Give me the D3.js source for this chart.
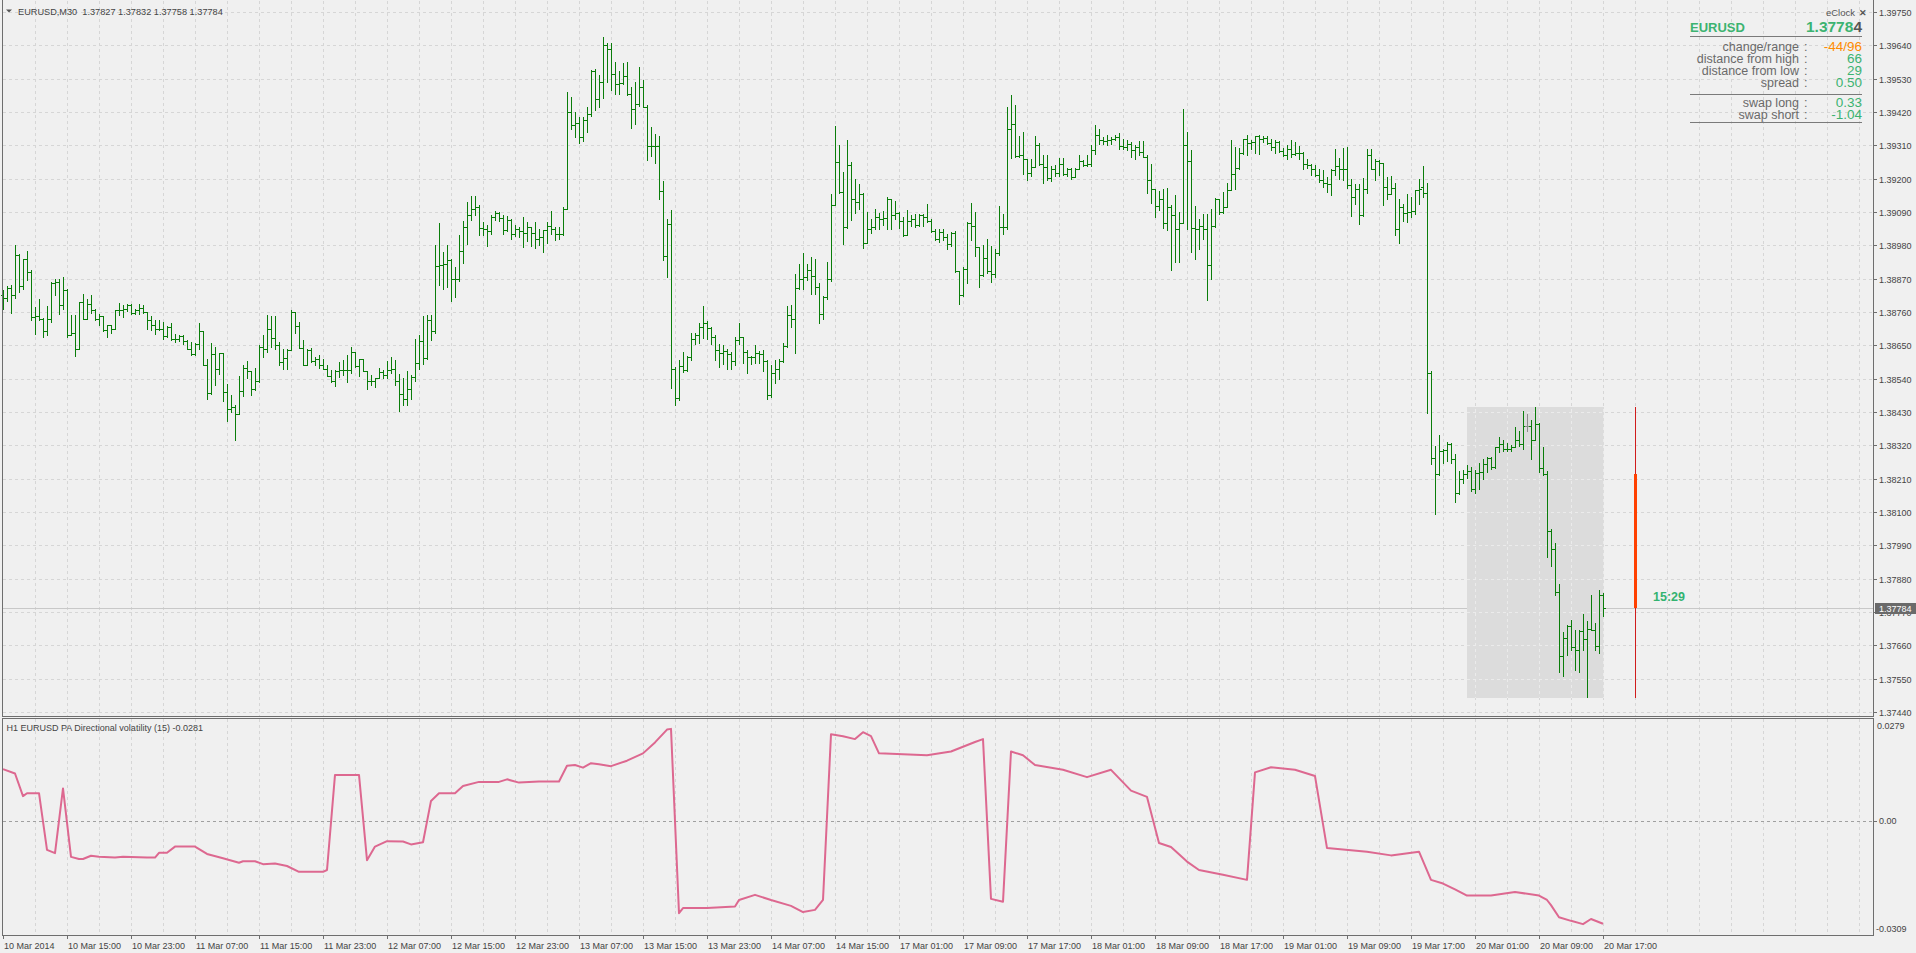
<!DOCTYPE html>
<html><head><meta charset="utf-8">
<script src="https://cdn.jsdelivr.net/npm/d3@7"></script>
<style>html,body{margin:0;padding:0;background:#f0f0f0;overflow:hidden}svg{display:block}</style>
</head><body><svg id="c" width="1916" height="953"></svg>
<script>
// ---------------- DATA ----------------
const symbol = "EURUSD", timeframe = "M30";
const barOpen = [
1.38815,1.38807,1.38840,1.38817,1.38947,1.38846,1.38934,1.38892,1.38743,1.38748,
1.38736,1.38696,1.38738,1.38856,1.38859,1.38782,1.38834,1.38685,1.38692,1.38638,
1.38793,1.38738,1.38785,1.38765,1.38736,1.38746,1.38700,1.38716,1.38704,1.38765,
1.38768,1.38771,1.38784,1.38758,1.38768,1.38772,1.38760,1.38735,1.38718,1.38705,
1.38704,1.38681,1.38710,1.38672,1.38670,1.38682,1.38663,1.38639,1.38621,1.38653,
1.38696,1.38586,1.38493,1.38623,1.38573,1.38624,1.38496,1.38441,1.38445,1.38423,
1.38500,1.38575,1.38564,1.38507,1.38531,1.38646,1.38637,1.38705,1.38674,1.38650,
1.38595,1.38608,1.38634,1.38760,1.38714,1.38642,1.38586,1.38634,1.38597,1.38604,
1.38586,1.38573,1.38549,1.38532,1.38564,1.38567,1.38570,1.38567,1.38628,1.38582,
1.38604,1.38564,1.38532,1.38531,1.38542,1.38562,1.38551,1.38567,1.38573,1.38531,
1.38490,1.38472,1.38507,1.38546,1.38593,1.38664,1.38608,1.38734,1.38696,1.38912,
1.38916,1.38920,1.38931,1.38868,1.38870,1.38960,1.39041,1.39081,1.39101,1.39108,
1.39037,1.39033,1.39026,1.39074,1.39088,1.39070,1.39030,1.39063,1.39016,1.39035,
1.39028,1.39020,1.39039,1.39020,1.39002,1.39009,1.39029,1.39044,1.39033,1.39016,
1.39019,1.39101,1.39421,1.39378,1.39385,1.39339,1.39394,1.39415,1.39556,1.39464,
1.39520,1.39642,1.39629,1.39545,1.39512,1.39517,1.39540,1.39479,1.39431,1.39448,
1.39504,1.39438,1.39308,1.39307,1.39308,1.39160,1.38945,1.39052,1.38573,1.38475,
1.38582,1.38569,1.38610,1.38670,1.38683,1.38709,1.38723,1.38706,1.38679,1.38635,
1.38626,1.38630,1.38623,1.38597,1.38668,1.38679,1.38628,1.38610,1.38613,1.38626,
1.38621,1.38599,1.38486,1.38558,1.38571,1.38599,1.38648,1.38749,1.38738,1.38840,
1.38868,1.38874,1.38899,1.38879,1.38844,1.38755,1.38808,1.38870,1.39112,1.39256,
1.39157,1.39042,1.39244,1.39132,1.39124,1.39149,1.38989,1.39035,1.39041,1.39072,
1.39068,1.39070,1.39134,1.39079,1.39088,1.39061,1.39014,1.39061,1.39068,1.39047,
1.39080,1.39072,1.39061,1.39028,1.39002,1.39024,1.39009,1.38984,1.39022,1.38894,
1.38816,1.38903,1.39053,1.39045,1.38976,1.38881,1.38937,1.38896,1.38885,1.38956,
1.39042,1.39040,1.39363,1.39382,1.39275,1.39277,1.39266,1.39218,1.39240,1.39310,
1.39250,1.39238,1.39202,1.39233,1.39220,1.39250,1.39217,1.39233,1.39206,1.39233,
1.39257,1.39244,1.39250,1.39296,1.39343,1.39327,1.39323,1.39327,1.39332,1.39338,
1.39308,1.39305,1.39316,1.39294,1.39305,1.39288,1.39272,1.39195,1.39165,1.39110,
1.39132,1.39054,1.39107,1.39081,1.39035,1.39054,1.39310,1.39257,1.39037,1.39035,
1.39044,1.39035,1.38916,1.39044,1.39132,1.39090,1.39107,1.39162,1.39217,1.39235,
1.39286,1.39330,1.39319,1.39321,1.39341,1.39332,1.39334,1.39319,1.39305,1.39321,
1.39290,1.39277,1.39297,1.39283,1.39286,1.39285,1.39250,1.39246,1.39231,1.39213,
1.39195,1.39187,1.39184,1.39228,1.39242,1.39231,1.39233,1.39180,1.39140,1.39167,
1.39079,1.39167,1.39277,1.39233,1.39257,1.39253,1.39173,1.39151,1.39169,1.39035,
1.39107,1.39088,1.39090,1.39092,1.39162,1.39174,1.39153,1.38558,1.38277,1.38226,
1.38301,1.38304,1.38324,1.38274,1.38163,1.38210,1.38224,1.38236,1.38177,1.38230,
1.38232,1.38260,1.38277,1.38248,1.38313,1.38324,1.38309,1.38307,1.38313,1.38336,
1.38324,1.38383,1.38383,1.38339,1.38389,1.38244,1.38224,1.38036,1.37977,1.37835,
1.37626,1.37685,1.37725,1.37656,1.37646,1.37708,1.37682,1.37715,1.37711,1.37658,
1.37827];
const barHigh = [
1.38832,1.38846,1.38848,1.38980,1.38950,1.38936,1.38962,1.38900,1.38777,1.38804,
1.38740,1.38780,1.38859,1.38870,1.38868,1.38876,1.38837,1.38749,1.38751,1.38793,
1.38821,1.38804,1.38815,1.38771,1.38755,1.38747,1.38718,1.38718,1.38767,1.38791,
1.38784,1.38788,1.38788,1.38771,1.38788,1.38782,1.38760,1.38746,1.38735,1.38732,
1.38727,1.38714,1.38724,1.38689,1.38683,1.38683,1.38667,1.38661,1.38659,1.38725,
1.38696,1.38604,1.38659,1.38645,1.38625,1.38625,1.38524,1.38485,1.38452,1.38549,
1.38584,1.38599,1.38564,1.38576,1.38650,1.38683,1.38749,1.38746,1.38746,1.38661,
1.38639,1.38637,1.38768,1.38760,1.38727,1.38667,1.38639,1.38641,1.38612,1.38617,
1.38604,1.38584,1.38568,1.38568,1.38595,1.38603,1.38619,1.38646,1.38628,1.38606,
1.38606,1.38564,1.38551,1.38542,1.38576,1.38568,1.38599,1.38613,1.38603,1.38557,
1.38543,1.38564,1.38551,1.38672,1.38683,1.38748,1.38749,1.38749,1.38980,1.39055,
1.38958,1.38982,1.38936,1.38907,1.39013,1.39060,1.39123,1.39143,1.39143,1.39114,
1.39057,1.39046,1.39081,1.39094,1.39090,1.39079,1.39076,1.39068,1.39048,1.39041,
1.39072,1.39057,1.39040,1.39058,1.39033,1.39031,1.39057,1.39092,1.39042,1.39039,
1.39105,1.39486,1.39469,1.39420,1.39405,1.39402,1.39438,1.39559,1.39561,1.39541,
1.39667,1.39649,1.39649,1.39585,1.39556,1.39583,1.39585,1.39504,1.39519,1.39568,
1.39526,1.39442,1.39372,1.39347,1.39341,1.39191,1.39066,1.39096,1.38577,1.38601,
1.38628,1.38615,1.38692,1.38692,1.38723,1.38780,1.38730,1.38709,1.38683,1.38654,
1.38650,1.38637,1.38628,1.38676,1.38723,1.38679,1.38635,1.38615,1.38650,1.38630,
1.38635,1.38601,1.38584,1.38602,1.38606,1.38657,1.38780,1.38782,1.38885,1.38917,
1.38954,1.38918,1.38940,1.38936,1.38857,1.38813,1.38925,1.39149,1.39374,1.39310,
1.39222,1.39327,1.39255,1.39198,1.39182,1.39154,1.39090,1.39066,1.39099,1.39086,
1.39094,1.39139,1.39134,1.39127,1.39090,1.39072,1.39097,1.39081,1.39083,1.39085,
1.39083,1.39116,1.39068,1.39035,1.39035,1.39033,1.39017,1.39024,1.39028,1.38894,
1.38907,1.39057,1.39121,1.39090,1.38976,1.38980,1.39002,1.38978,1.38967,1.39110,
1.39083,1.39435,1.39475,1.39442,1.39341,1.39354,1.39266,1.39264,1.39341,1.39319,
1.39277,1.39277,1.39242,1.39246,1.39268,1.39268,1.39235,1.39235,1.39235,1.39277,
1.39261,1.39277,1.39310,1.39376,1.39365,1.39338,1.39345,1.39338,1.39343,1.39352,
1.39330,1.39327,1.39321,1.39310,1.39323,1.39323,1.39277,1.39250,1.39167,1.39158,
1.39167,1.39169,1.39114,1.39147,1.39090,1.39431,1.39354,1.39294,1.39109,1.39068,
1.39085,1.39085,1.39101,1.39136,1.39134,1.39156,1.39187,1.39327,1.39305,1.39301,
1.39332,1.39345,1.39327,1.39341,1.39345,1.39341,1.39341,1.39332,1.39327,1.39323,
1.39301,1.39310,1.39327,1.39321,1.39308,1.39288,1.39266,1.39250,1.39244,1.39233,
1.39228,1.39206,1.39231,1.39299,1.39268,1.39301,1.39305,1.39198,1.39184,1.39184,
1.39202,1.39299,1.39297,1.39266,1.39261,1.39253,1.39206,1.39209,1.39187,1.39134,
1.39118,1.39151,1.39140,1.39162,1.39198,1.39242,1.39187,1.38566,1.38319,1.38354,
1.38307,1.38330,1.38327,1.38292,1.38236,1.38238,1.38254,1.38248,1.38239,1.38263,
1.38274,1.38283,1.38281,1.38313,1.38348,1.38336,1.38327,1.38321,1.38381,1.38366,
1.38434,1.38422,1.38405,1.38448,1.38395,1.38313,1.38236,1.38045,1.37997,1.37861,
1.37703,1.37727,1.37743,1.37709,1.37711,1.37764,1.37741,1.37827,1.37735,1.37844,
1.37832];
const barLow = [
1.38771,1.38795,1.38758,1.38806,1.38826,1.38837,1.38865,1.38732,1.38689,1.38732,
1.38676,1.38683,1.38727,1.38815,1.38754,1.38769,1.38677,1.38683,1.38614,1.38637,
1.38736,1.38736,1.38758,1.38732,1.38716,1.38696,1.38676,1.38692,1.38704,1.38751,
1.38743,1.38762,1.38752,1.38753,1.38755,1.38758,1.38705,1.38700,1.38689,1.38702,
1.38672,1.38677,1.38669,1.38661,1.38663,1.38655,1.38637,1.38617,1.38617,1.38639,
1.38584,1.38472,1.38491,1.38518,1.38557,1.38466,1.38399,1.38430,1.38337,1.38423,
1.38482,1.38542,1.38485,1.38502,1.38529,1.38612,1.38628,1.38645,1.38637,1.38584,
1.38573,1.38571,1.38634,1.38692,1.38641,1.38584,1.38586,1.38595,1.38584,1.38575,
1.38571,1.38548,1.38529,1.38516,1.38545,1.38551,1.38529,1.38560,1.38579,1.38549,
1.38564,1.38507,1.38520,1.38514,1.38542,1.38542,1.38542,1.38559,1.38520,1.38432,
1.38452,1.38452,1.38474,1.38531,1.38571,1.38590,1.38606,1.38667,1.38692,1.38848,
1.38837,1.38843,1.38795,1.38808,1.38861,1.38923,1.38983,1.39063,1.39079,1.39013,
1.39013,1.38977,1.39019,1.39063,1.39061,1.39016,1.39026,1.39002,1.39011,1.39008,
1.38975,1.38993,1.38978,1.38971,1.38980,1.38958,1.38989,1.39016,1.38998,1.39000,
1.39013,1.39099,1.39363,1.39338,1.39317,1.39325,1.39354,1.39407,1.39427,1.39438,
1.39465,1.39519,1.39492,1.39481,1.39481,1.39512,1.39476,1.39366,1.39380,1.39440,
1.39437,1.39262,1.39275,1.39251,1.39132,1.38932,1.38875,1.38508,1.38453,1.38470,
1.38563,1.38566,1.38602,1.38654,1.38657,1.38674,1.38670,1.38654,1.38602,1.38580,
1.38588,1.38571,1.38573,1.38584,1.38654,1.38593,1.38558,1.38590,1.38593,1.38593,
1.38566,1.38474,1.38480,1.38527,1.38538,1.38595,1.38643,1.38711,1.38624,1.38835,
1.38835,1.38866,1.38819,1.38819,1.38723,1.38738,1.38804,1.38862,1.39112,1.39152,
1.38984,1.39037,1.39063,1.39088,1.39099,1.38971,1.38989,1.39020,1.39033,1.39035,
1.39046,1.39035,1.39033,1.39066,1.39037,1.39011,1.39013,1.39044,1.39041,1.39044,
1.39044,1.39057,1.39025,1.38998,1.38991,1.38998,1.38967,1.38978,1.38892,1.38786,
1.38812,1.38855,1.38998,1.38945,1.38844,1.38879,1.38890,1.38859,1.38874,1.38947,
1.39017,1.39035,1.39268,1.39270,1.39273,1.39215,1.39195,1.39209,1.39237,1.39244,
1.39187,1.39195,1.39191,1.39209,1.39209,1.39211,1.39209,1.39200,1.39206,1.39233,
1.39242,1.39242,1.39242,1.39283,1.39316,1.39316,1.39310,1.39316,1.39327,1.39297,
1.39299,1.39294,1.39272,1.39264,1.39277,1.39272,1.39154,1.39121,1.39074,1.39096,
1.39037,1.39030,1.38898,1.38925,1.38925,1.39054,1.39035,1.38958,1.38934,1.38967,
1.39000,1.38799,1.38868,1.39040,1.39085,1.39088,1.39105,1.39162,1.39165,1.39233,
1.39283,1.39279,1.39297,1.39286,1.39283,1.39321,1.39316,1.39294,1.39286,1.39288,
1.39274,1.39264,1.39272,1.39279,1.39264,1.39233,1.39235,1.39211,1.39209,1.39189,
1.39173,1.39156,1.39147,1.39213,1.39200,1.39195,1.39169,1.39076,1.39118,1.39049,
1.39076,1.39154,1.39231,1.39195,1.39213,1.39112,1.39132,1.39148,1.39013,1.38989,
1.39059,1.39057,1.39074,1.39085,1.39118,1.39141,1.38427,1.38259,1.38094,1.38222,
1.38262,1.38269,1.38262,1.38133,1.38160,1.38197,1.38212,1.38169,1.38162,1.38177,
1.38210,1.38232,1.38242,1.38245,1.38297,1.38301,1.38301,1.38301,1.38313,1.38318,
1.38307,1.38366,1.38274,1.38336,1.38232,1.38222,1.37953,1.37921,1.37826,1.37572,
1.37558,1.37629,1.37646,1.37578,1.37572,1.37644,1.37491,1.37709,1.37646,1.37635,
1.37758];
const barClose = [
1.38807,1.38840,1.38817,1.38947,1.38846,1.38934,1.38892,1.38743,1.38748,1.38736,
1.38696,1.38738,1.38856,1.38859,1.38782,1.38834,1.38685,1.38692,1.38638,1.38793,
1.38738,1.38785,1.38765,1.38736,1.38746,1.38700,1.38716,1.38704,1.38765,1.38768,
1.38771,1.38784,1.38758,1.38768,1.38772,1.38760,1.38735,1.38718,1.38705,1.38704,
1.38681,1.38710,1.38672,1.38670,1.38682,1.38663,1.38639,1.38621,1.38653,1.38696,
1.38586,1.38493,1.38623,1.38573,1.38624,1.38496,1.38441,1.38445,1.38423,1.38500,
1.38575,1.38564,1.38507,1.38531,1.38646,1.38637,1.38705,1.38674,1.38650,1.38595,
1.38608,1.38634,1.38760,1.38714,1.38642,1.38586,1.38634,1.38597,1.38604,1.38586,
1.38573,1.38549,1.38532,1.38564,1.38567,1.38570,1.38567,1.38628,1.38582,1.38604,
1.38564,1.38532,1.38531,1.38542,1.38562,1.38551,1.38567,1.38573,1.38531,1.38490,
1.38472,1.38507,1.38546,1.38593,1.38664,1.38608,1.38734,1.38696,1.38912,1.38916,
1.38920,1.38931,1.38868,1.38870,1.38960,1.39041,1.39081,1.39101,1.39108,1.39037,
1.39033,1.39026,1.39074,1.39088,1.39070,1.39030,1.39063,1.39016,1.39035,1.39028,
1.39020,1.39039,1.39020,1.39002,1.39009,1.39029,1.39044,1.39033,1.39016,1.39019,
1.39101,1.39421,1.39378,1.39385,1.39339,1.39394,1.39415,1.39556,1.39464,1.39520,
1.39642,1.39629,1.39545,1.39512,1.39517,1.39540,1.39479,1.39431,1.39448,1.39504,
1.39438,1.39308,1.39307,1.39308,1.39160,1.38945,1.39052,1.38573,1.38475,1.38582,
1.38569,1.38610,1.38670,1.38683,1.38709,1.38723,1.38706,1.38679,1.38635,1.38626,
1.38630,1.38623,1.38597,1.38668,1.38679,1.38628,1.38610,1.38613,1.38626,1.38621,
1.38599,1.38486,1.38558,1.38571,1.38599,1.38648,1.38749,1.38738,1.38840,1.38868,
1.38874,1.38899,1.38879,1.38844,1.38755,1.38808,1.38870,1.39112,1.39256,1.39157,
1.39042,1.39244,1.39132,1.39124,1.39149,1.38989,1.39035,1.39041,1.39072,1.39068,
1.39070,1.39134,1.39079,1.39088,1.39061,1.39014,1.39061,1.39068,1.39047,1.39080,
1.39072,1.39061,1.39028,1.39002,1.39024,1.39009,1.38984,1.39022,1.38894,1.38816,
1.38903,1.39053,1.39045,1.38976,1.38881,1.38937,1.38896,1.38885,1.38956,1.39042,
1.39040,1.39363,1.39382,1.39275,1.39277,1.39266,1.39218,1.39240,1.39310,1.39250,
1.39238,1.39202,1.39233,1.39220,1.39250,1.39217,1.39233,1.39206,1.39233,1.39257,
1.39244,1.39250,1.39296,1.39343,1.39327,1.39323,1.39327,1.39332,1.39338,1.39308,
1.39305,1.39316,1.39294,1.39305,1.39288,1.39272,1.39195,1.39165,1.39110,1.39132,
1.39054,1.39107,1.39081,1.39035,1.39054,1.39310,1.39257,1.39037,1.39035,1.39044,
1.39035,1.38916,1.39044,1.39132,1.39090,1.39107,1.39162,1.39217,1.39235,1.39286,
1.39330,1.39319,1.39321,1.39341,1.39332,1.39334,1.39319,1.39305,1.39321,1.39290,
1.39277,1.39297,1.39283,1.39286,1.39285,1.39250,1.39246,1.39231,1.39213,1.39195,
1.39187,1.39184,1.39228,1.39242,1.39231,1.39233,1.39180,1.39140,1.39167,1.39079,
1.39167,1.39277,1.39233,1.39257,1.39253,1.39173,1.39151,1.39169,1.39035,1.39107,
1.39088,1.39090,1.39092,1.39162,1.39167,1.39153,1.38558,1.38277,1.38226,1.38301,
1.38304,1.38324,1.38274,1.38163,1.38210,1.38224,1.38236,1.38177,1.38230,1.38232,
1.38260,1.38277,1.38248,1.38313,1.38324,1.38309,1.38307,1.38313,1.38336,1.38324,
1.38383,1.38383,1.38339,1.38389,1.38244,1.38224,1.38036,1.37977,1.37835,1.37626,
1.37685,1.37725,1.37656,1.37646,1.37708,1.37682,1.37715,1.37711,1.37658,1.37827,
1.37784];

const priceTicks = [1.37440,1.37550,1.37660,1.37770,1.37880,1.37990,1.38100,1.38210,1.38320,1.38430,1.38540,
  1.38650,1.38760,1.38870,1.38980,1.39090,1.39200,1.39310,1.39420,1.39530,1.39640,1.39750];
const timeLabels = ["10 Mar 2014","10 Mar 15:00","10 Mar 23:00","11 Mar 07:00","11 Mar 15:00","11 Mar 23:00",
  "12 Mar 07:00","12 Mar 15:00","12 Mar 23:00","13 Mar 07:00","13 Mar 15:00","13 Mar 23:00","14 Mar 07:00",
  "14 Mar 15:00","17 Mar 01:00","17 Mar 09:00","17 Mar 17:00","18 Mar 01:00","18 Mar 09:00","18 Mar 17:00",
  "19 Mar 01:00","19 Mar 09:00","19 Mar 17:00","20 Mar 01:00","20 Mar 09:00","20 Mar 17:00"];
const barsPerLabel = 16;

// Indicator: H1 PA Directional volatility (15), vertices by bar index
const indBar = [0,3,5,6,9,11,13,15,17,19,20,22,24,28,30,36,38,39,41,43,48,51,55,59,60,63,65,68,71,74,80,81,83,89,91,93,96,100,102,105,107,109,113,115,119,124,126,129,134,139,141,143,145,147,149,
  152,156,160,163,166,167,169,170,176,183,184,188,192,197,200,203,205,207,210,213,215,217,219,231,237,243,245,247,250,252,255,258,265,271,277,282,286,289,292,296,299,305,311,313,317,323,328,331,341,347,354,357,360,363,366,372,378,384,386,387,389,392,395,397,400];
const indValue = [0.0142,0.0130,0.0068,0.0076,0.0076,-0.0079,-0.0088,0.0089,-0.0098,-0.0104,-0.0104,-0.0095,-0.0098,-0.0100,-0.0098,-0.0100,-0.0100,-0.0087,-0.0087,-0.0070,-0.0070,-0.0090,-0.0102,-0.0114,-0.0110,-0.0110,-0.0118,-0.0116,-0.0123,-0.0139,-0.0139,-0.0134,0.0126,0.0126,-0.0107,-0.0070,-0.0055,-0.0056,-0.0064,-0.0058,0.0055,0.0076,0.0076,0.0096,0.0107,0.0107,0.0114,0.0105,0.0108,0.0108,0.0151,0.0153,0.0146,0.0158,0.0155,
  0.0150,0.0165,0.0185,0.0215,0.0250,0.0252,-0.0252,-0.0238,-0.0238,-0.0234,-0.0216,-0.0202,-0.0216,-0.0232,-0.0249,-0.0243,-0.0216,0.0237,0.0232,0.0224,0.0243,0.0232,0.0185,0.0180,0.0190,0.0216,0.0224,-0.0213,-0.0221,0.0190,0.0180,0.0153,0.0140,0.0120,0.0140,0.0083,0.0066,-0.0060,-0.0071,-0.0111,-0.0134,-0.0147,-0.0161,0.0133,0.0147,0.0140,0.0123,-0.0074,-0.0084,-0.0094,-0.0084,-0.0161,-0.0171,-0.0187,-0.0204,-0.0204,-0.0194,-0.0204,-0.0216,-0.0230,-0.0263,-0.0273,-0.0282,-0.0268,-0.0281];
const indName = "H1 EURUSD PA Directional volatility (15)";
const indRange = [-0.0309, 0.0279];
const indLabels = ["0.0279","0.00","-0.0309"];

// eClock panel
const clockRows = [["change/range","-44/96","#ff8c00"],["distance from high","66","#3cb371"],
  ["distance from low","29","#3cb371"],["spread","0.50","#3cb371"]];
const swapRows = [["swap long","0.33","#3cb371"],["swap short","-1.04","#3cb371"]];
const countdown = "15:29";
const sessionStartBar = 366;   // 20 Mar 00:00

// ---------------- DRAW ----------------
const F = '"Liberation Sans", Arial, sans-serif';
const svg = d3.select("#c");
const nBars = barClose.length, last = nBars - 1;
const bars = d3.range(nBars).map(i => ({i, o:barOpen[i], h:barHigh[i], l:barLow[i], c:barClose[i]}));

const x = d3.scaleLinear().domain([0, 400]).range([3, 1603]);
const y = d3.scaleLinear().domain([priceTicks[0], priceTicks[priceTicks.length-1]]).range([712, 12]);
const yi = d3.scaleLinear().domain(indRange).range([934, 719]);
const R = 1873, L = 2, MB = 716, IT = 718, IB = 935;
const px = v => Math.round(v) + 0.5;

svg.append("rect").attr("width",1916).attr("height",953).attr("fill","#f0f0f0");

const gridBars = d3.range(8, 465, 8);
function drawGrid(g, color) {
  g.selectAll("line.hg").data(priceTicks).join("line")
    .attr("x1", L+1).attr("x2", R).attr("y1", d => px(y(d))).attr("y2", d => px(y(d)))
    .attr("stroke", color).attr("stroke-dasharray","3,3");
  g.selectAll("line.vg").data(gridBars).join("line").attr("class","vg")
    .attr("x1", d => px(x(d))).attr("x2", d => px(x(d))).attr("y1", 1).attr("y2", MB)
    .attr("stroke", color).attr("stroke-dasharray","3,3");
}
drawGrid(svg.append("g"), "#d6d6d6");

// indicator vertical grid
svg.append("g").selectAll("line").data(gridBars).join("line")
  .attr("x1", d => px(x(d))).attr("x2", d => px(x(d))).attr("y1", IT+1).attr("y2", IB)
  .attr("stroke", "#d6d6d6").attr("stroke-dasharray","3,3");

// current price line
const cur = barClose[last];
svg.append("line").attr("x1", L+1).attr("x2", R).attr("y1", px(y(cur))).attr("y2", px(y(cur)))
  .attr("stroke", "#c8c8c8");

// session range box
const sess = bars.slice(sessionStartBar);
const dayHigh = d3.max(sess, d => d.h), dayLow = d3.min(sess, d => d.l), dayOpen = sess[0].o;
const bx0 = Math.round(x(sessionStartBar)), bx1 = Math.round(x(last)) + 1;
const by0 = Math.round(y(dayHigh)), by1 = Math.round(y(dayLow)) + 1;
svg.append("rect").attr("x", bx0).attr("y", by0).attr("width", bx1-bx0).attr("height", by1-by0).attr("fill","#dcdcdc");
svg.append("clipPath").attr("id","boxclip").append("rect").attr("x", bx0).attr("y", by0).attr("width", bx1-bx0).attr("height", by1-by0);
drawGrid(svg.append("g").attr("clip-path","url(#boxclip)"), "#ebebeb");

// OHLC bars
const gb = svg.append("g").attr("fill","none").attr("shape-rendering","crispEdges");
gb.selectAll("path").data(bars).join("path")
  .attr("stroke", d => d.o === d.c ? "#8c8c8c" : "#0a7d0a")
  .attr("stroke-width", 1)
  .attr("d", d => {
    const cx = px(x(d.i));
    const yh = Math.round(y(d.h)), yl = Math.round(y(d.l)) + 1;
    const yo = px(y(d.o)), yc = px(y(d.c));
    return `M${cx},${yh}V${yl}M${cx-2.5},${yo}H${cx}M${cx},${yc}H${cx+2.5}`;
  });

// daily candle to the right
const dx = px(x(last + 8));
svg.append("line").attr("x1", dx).attr("x2", dx).attr("y1", Math.round(y(dayHigh))).attr("y2", Math.round(y(dayLow))+1)
  .attr("stroke", "#d01c1c").attr("stroke-width", 1);
svg.append("line").attr("x1", dx).attr("x2", dx).attr("y1", Math.round(y(dayOpen))).attr("y2", Math.round(y(cur)))
  .attr("stroke", "#ff4000").attr("stroke-width", 3);
svg.append("text").attr("x", dx + 17.5).attr("y", y(cur) - 7).attr("font-family", F).attr("font-size", 12.5)
  .attr("font-weight", "bold").attr("fill", "#33b370").text(countdown);

// indicator
const indPts = indBar.map((b, k) => [x(b), yi(indValue[k])]);
svg.append("line").attr("x1", L+1).attr("x2", R).attr("y1", px(yi(0))).attr("y2", px(yi(0)))
  .attr("stroke", "#a0a0a0").attr("stroke-dasharray", "3,3");
svg.append("path").attr("d", d3.line()(indPts)).attr("fill","none").attr("stroke","#dd6890").attr("stroke-width",2)
  .attr("stroke-linejoin","round");

// frames
const fr = svg.append("g").attr("stroke","#6e6e6e").attr("fill","none").attr("shape-rendering","crispEdges");
fr.append("path").attr("d", `M${L+0.5},0V${MB+0.5}H${R+0.5}V0`);
fr.append("rect").attr("x", L+0.5).attr("y", IT+0.5).attr("width", R-L).attr("height", IB-IT);

// right price axis
const ax = svg.append("g").attr("font-family", F).attr("font-size", 9).attr("fill", "#444");
priceTicks.forEach(p => {
  const yy = px(y(p));
  ax.append("line").attr("x1", R+1).attr("x2", R+4).attr("y1", yy).attr("y2", yy).attr("stroke","#6e6e6e");
  // the tick hidden under the current-price box is shown only in its lower part, as in the reference
  if (Math.abs(y(p) - y(barClose[last])) < 5) {
    ax.append("text").attr("x", R+6).attr("y", yy + 3.3).attr("clip-path","url(#lowclip)").text(p.toFixed(5));
  } else {
    ax.append("text").attr("x", R+6).attr("y", yy + 3.3).text(p.toFixed(5));
  }
});
// current price label
const cy = Math.round(y(cur));
svg.append("clipPath").attr("id","lowclip").append("rect").attr("x", R).attr("y", cy + 6).attr("width", 43).attr("height", 8);
svg.append("rect").attr("x", R+2).attr("y", cy - 5).attr("width", 41).attr("height", 11).attr("fill", "#6a6a6a");
svg.append("text").attr("x", R+6).attr("y", cy + 3.5).attr("font-family", F).attr("font-size", 9)
  .attr("fill", "#fff").text(cur.toFixed(5));

// indicator axis labels
const ia = svg.append("g").attr("font-family", F).attr("font-size", 9).attr("fill", "#444");
ia.append("text").attr("x", R+4).attr("y", yi(indRange[1]) + 10).text(indLabels[0]);
ia.append("line").attr("x1", R+1).attr("x2", R+4).attr("y1", px(yi(0))).attr("y2", px(yi(0))).attr("stroke","#6e6e6e");
ia.append("text").attr("x", R+6).attr("y", yi(0) + 3.3).text(indLabels[1]);
ia.append("text").attr("x", R+3).attr("y", yi(indRange[0]) - 2.5).text(indLabels[2]);

// time axis
const ta = svg.append("g").attr("font-family", F).attr("font-size", 9).attr("fill", "#444");
timeLabels.forEach((t, k) => {
  const xx = px(x(k * barsPerLabel));
  ta.append("line").attr("x1", xx).attr("x2", xx).attr("y1", IB+1).attr("y2", IB+4).attr("stroke","#6e6e6e");
  ta.append("text").attr("x", xx + 0.5).attr("y", 948.5).text(t);
});

// titles
svg.append("path").attr("d", "M6,9.5H12L9,12.5Z").attr("fill", "#555");
svg.append("text").attr("x", 18).attr("y", 14.5).attr("font-family", F).attr("font-size", 9.2).attr("fill", "#444")
  .attr("xml:space","preserve")
  .text(`${symbol},${timeframe}  ${barOpen[last].toFixed(5)} ${barHigh[last].toFixed(5)} ${barLow[last].toFixed(5)} ${barClose[last].toFixed(5)}`);
svg.append("text").attr("x", 6.5).attr("y", 731).attr("font-family", F).attr("font-size", 9).attr("fill", "#444")
  .text(`${indName} ${indValue[indValue.length-1].toFixed(4)}`);

// eClock panel
const ec = svg.append("g").attr("font-family", F);
ec.append("text").attr("x", 1855).attr("y", 15.5).attr("text-anchor","end").attr("font-size", 9.5).attr("fill","#555").text("eClock");
ec.append("text").attr("x", 1863).attr("y", 15.5).attr("text-anchor","middle").attr("font-size", 9).attr("font-weight","bold").attr("fill","#555").text("✕");
ec.append("text").attr("x", 1690).attr("y", 31.5).attr("font-size", 13).attr("font-weight","bold").attr("fill","#3cb371").text(symbol);
const cs = cur.toFixed(5);
const pt = ec.append("text").attr("x", 1862).attr("y", 32).attr("text-anchor","end").attr("font-size", 15.5).attr("font-weight","bold");
pt.append("tspan").attr("fill","#3cb371").text(cs.slice(0, -1));
pt.append("tspan").attr("fill","#555").text(cs.slice(-1));
const lineC = "#7a7a7a";
[36.5, 94.5, 122.5].forEach(yy => ec.append("line").attr("x1",1690).attr("x2",1862).attr("y1",yy).attr("y2",yy).attr("stroke",lineC));
function rows(arr, y0) {
  arr.forEach((r, k) => {
    const yy = y0 + k * 12;
    ec.append("text").attr("x", 1799).attr("y", yy).attr("text-anchor","end").attr("font-size", 12.5).attr("fill","#6a6a6a").text(r[0]);
    ec.append("text").attr("x", 1804).attr("y", yy).attr("font-size", 12.5).attr("fill","#6a6a6a").text(":");
    ec.append("text").attr("x", 1862).attr("y", yy).attr("text-anchor","end").attr("font-size", 13.5).attr("fill", r[2]).text(r[1]);
  });
}
rows(clockRows, 51.2);
rows(swapRows, 106.8);
</script></body></html>
